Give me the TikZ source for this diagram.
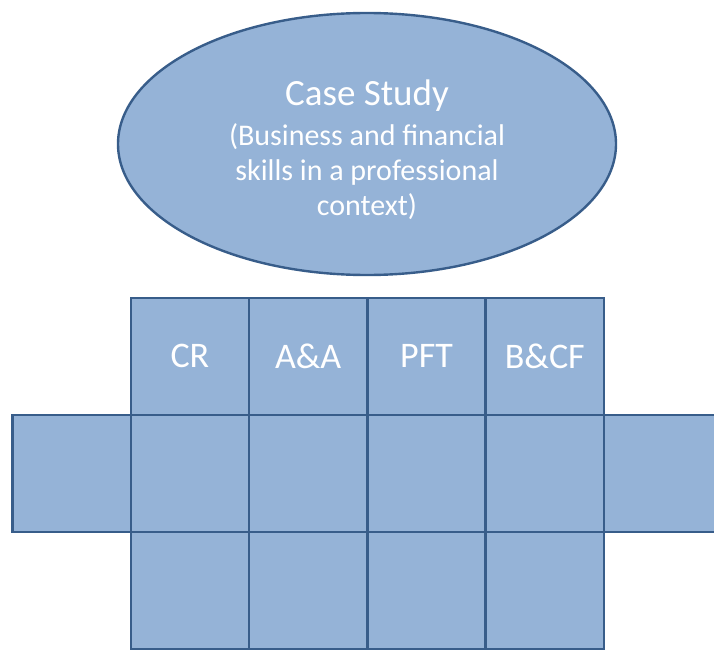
\documentclass[tikz,border=0pt]{standalone}
\usepackage{fontspec}
\setmainfont{Carlito}
\usepackage{xcolor}
\usepackage{tikz}
\usetikzlibrary{shapes.geometric, positioning}

\definecolor{boxfill}{HTML}{95B3D7}
\definecolor{boxline}{HTML}{385D8A}

\begin{document}
\begin{tikzpicture}[x=1pt, y=-1pt,
  every node/.style={draw=boxline, line width=2.4pt, fill=boxfill,
    text=white, inner sep=0pt, outer sep=0pt},
  cell/.style={rectangle, minimum width=118.3pt, minimum height=117pt,
    font=\fontsize{36}{40}\selectfont},
  oval/.style={ellipse, minimum width=498pt, minimum height=262pt,
    align=center, font=\fontsize{30}{35}\selectfont}]
\useasboundingbox (0,0) rectangle (714,650);
\clip (0,0) rectangle (714,650);
\node[oval] (case) at (367,144)
  {{\fontsize{37}{42}\selectfont\rule{0pt}{38pt}Case Study}\\[5pt]
   (Business and financial\\ skills in a professional\\ context)};
% top row
\node[cell] (cr) at (189.9,356.2) {CR};
\node[cell, right=0pt of cr] (aa) {A\&A};
\node[cell, right=0pt of aa] (pft) {PFT};
\node[cell, right=0pt of pft] (bcf) {B\&CF};
% middle row
\node[cell, below=0pt of cr] (m1) {};
\node[cell, below=0pt of aa] (m2) {};
\node[cell, below=0pt of pft] (m3) {};
\node[cell, below=0pt of bcf] (m4) {};
\node[cell, left=0pt of m1] (ml) {};
\node[cell, right=0pt of m4] (mr) {};
% bottom row
\node[cell, below=0pt of m1] (b1) {};
\node[cell, below=0pt of m2] (b2) {};
\node[cell, below=0pt of m3] (b3) {};
\node[cell, below=0pt of m4] (b4) {};
\end{tikzpicture}
\end{document}
